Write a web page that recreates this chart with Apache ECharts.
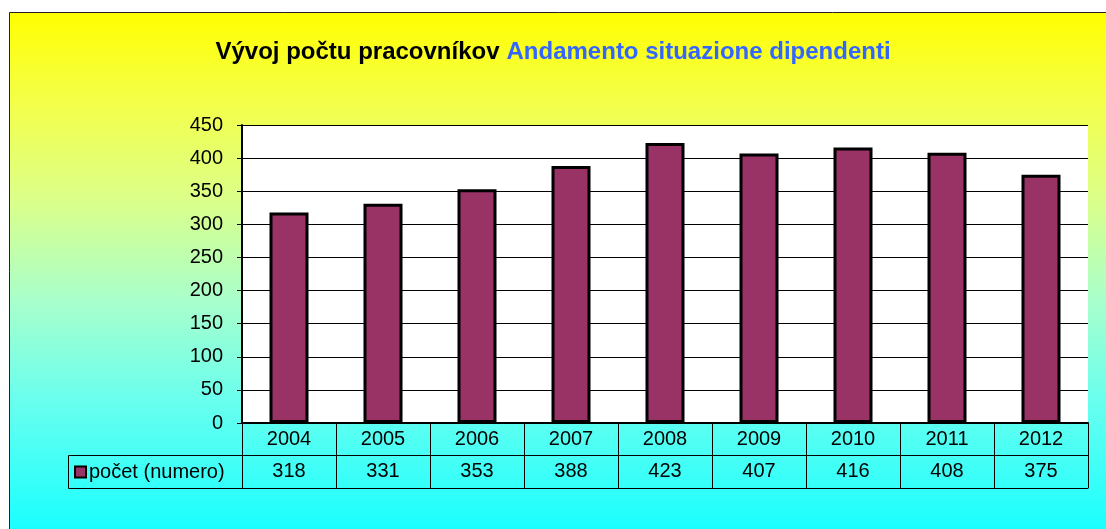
<!DOCTYPE html>
<html>
<head>
<meta charset="utf-8">
<script src="https://cdn.jsdelivr.net/npm/echarts@6/dist/echarts.min.js"></script>
<style>
    html, body { margin: 0; padding: 0; background: #fff; }
    #chart { width: 1106px; height: 529px; }
</style>
</head>
<body>
<div id="chart"></div>
<script>
    // dati
    const years = ['2004', '2005', '2006', '2007', '2008', '2009', '2010', '2011', '2012'];
    const pocet = [318, 331, 353, 388, 423, 407, 416, 408, 375];
    const seriesName = 'počet (numero)';
    const titleSk = 'Vývoj počtu pracovníkov';
    const titleIt = 'Andamento situazione dipendenti';

    const font = 'Arial, "Liberation Sans", sans-serif';
    const chart = echarts.init(document.getElementById('chart'));

    chart.setOption({
        backgroundColor: '#fff',
        animation: false,
        graphic: [
            {
                // sfondo giallo -> azzurro
                type: 'rect',
                z: -10,
                silent: true,
                shape: { x: 9.5, y: 12.5, width: 1200, height: 600 },
                style: {
                    fill: new echarts.graphic.LinearGradient(0, 12, 0, 529, [
                        { offset: 0, color: '#ffff00' },
                        { offset: 0.17, color: '#f4ff48' },
                        { offset: 0.36, color: '#dcff88' },
                        { offset: 0.56, color: '#a8ffcc' },
                        { offset: 0.75, color: '#6affee' },
                        { offset: 1, color: '#1affff' }
                    ], true),
                    stroke: '#222',
                    lineWidth: 1
                }
            },
            {
                // cella della legenda nella tabella
                type: 'rect',
                z: 5,
                silent: true,
                shape: { x: 68.5, y: 455.5, width: 174, height: 33 },
                style: { fill: null, stroke: '#000', lineWidth: 1 }
            }
        ],
        title: {
            left: 'center',
            top: 35,
            text: '{a|' + titleSk + '} {b|' + titleIt + '}',
            textStyle: {
                rich: {
                    a: { fontFamily: font, fontSize: 24, fontWeight: 'bold', color: '#000', padding: [0, 2, 0, 0] },
                    b: { fontFamily: font, fontSize: 24, fontWeight: 'bold', color: '#3366ff' }
                }
            }
        },
        legend: {
            left: 74,
            top: 462,
            padding: 0,
            icon: 'rect',
            itemWidth: 11,
            itemHeight: 11,
            itemGap: 4,
            itemStyle: { borderColor: '#000', borderWidth: 2 },
            textStyle: { fontFamily: font, fontSize: 20, color: '#000', padding: [0, 0, 0, -2] },
            data: [seriesName]
        },
        grid: {
            left: 242,
            right: 18,
            top: 125,
            bottom: 106,
            show: true,
            backgroundColor: '#fff',
            borderWidth: 0
        },
        xAxis: [
            {
                type: 'category',
                data: years,
                position: 'bottom',
                boundaryGap: true,
                axisLine: { lineStyle: { color: '#000', width: 2 } },
                axisTick: { show: true, length: 65, lineStyle: { color: '#000', width: 1 } },
                axisLabel: { fontFamily: font, fontSize: 20, color: '#000', margin: 6 }
            },
            {
                type: 'category',
                data: pocet.map(String),
                position: 'bottom',
                offset: 32,
                axisLine: { lineStyle: { color: '#000', width: 1 } },
                axisTick: { show: false },
                axisLabel: { fontFamily: font, fontSize: 20, color: '#000', margin: 6 }
            },
            {
                type: 'category',
                data: years,
                position: 'bottom',
                offset: 65,
                axisLine: { lineStyle: { color: '#000', width: 1 } },
                axisTick: { show: false },
                axisLabel: { show: false }
            }
        ],
        yAxis: {
            type: 'value',
            min: 0,
            max: 450,
            interval: 50,
            axisLine: { show: true, lineStyle: { color: '#000', width: 2 } },
            axisTick: { show: true, length: 5, lineStyle: { color: '#000' } },
            axisLabel: { fontFamily: font, fontSize: 20, color: '#000', margin: 19 },
            splitLine: { show: true, lineStyle: { color: '#000', width: 1 } }
        },
        series: [
            {
                name: seriesName,
                type: 'bar',
                data: pocet,
                barWidth: 39,
                itemStyle: { color: '#993366', borderColor: '#000', borderWidth: 3 }
            }
        ]
    });
</script>
</body>
</html>
